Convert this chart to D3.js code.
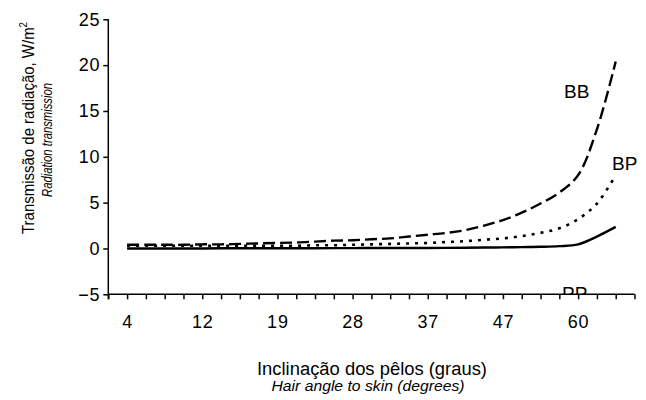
<!DOCTYPE html>
<html>
<head>
<meta charset="utf-8">
<script src="https://cdn.jsdelivr.net/npm/d3@7"></script>
<style>
  body { margin: 0; background: #fff; }
  svg { display: block; font-family: "Liberation Sans", Arial, sans-serif; }
  .axis path, .axis line { stroke: #000; stroke-width: 1.5; }
  .axis text { font-size: 18px; fill: #000; font-family: "Liberation Sans", Arial, sans-serif; letter-spacing: 0.8px; }
</style>
</head>
<body>
<div id="chart"></div>
<script>
  // hair angle labels shown on the category axis (every 4th category)
  const tickLabels = ["4", "12", "19", "28", "37", "47", "60"];
  const yTicks = [-5, 0, 5, 10, 15, 20, 25];

  // radiation transmission, W/m2 — one value per category (27 categories)
  const bb = [0.4, 0.4, 0.4, 0.4, 0.45, 0.45, 0.5, 0.55, 0.6, 0.65, 0.75, 0.85, 0.9, 1.0,
              1.1, 1.3, 1.5, 1.7, 2.0, 2.5, 3.1, 3.9, 4.9, 6.1, 8.0, 13.0, 20.4];
  const bp = [0.3, 0.3, 0.3, 0.3, 0.3, 0.3, 0.3, 0.3, 0.3, 0.3, 0.35, 0.35, 0.4, 0.45,
              0.5, 0.55, 0.6, 0.7, 0.8, 0.95, 1.1, 1.35, 1.7, 2.2, 3.2, 4.9, 8.0];
  const pp = [0.0, 0.0, 0.0, 0.0, 0.0, 0.02, 0.02, 0.02, 0.03, 0.03, 0.03, 0.04, 0.04, 0.05,
              0.05, 0.05, 0.05, 0.06, 0.08, 0.1, 0.12, 0.15, 0.18, 0.25, 0.45, 1.3, 2.35];

  const W = 646, H = 400;
  const pLeft = 108.3, pRight = 634.5, pTop = 19.3, pBottom = 294.3;

  const svg = d3.select("#chart").append("svg")
    .attr("width", W).attr("height", H);

  const x = d3.scaleLinear().domain([-1, 27]).range([pLeft, pRight]);
  const y = d3.scaleLinear().domain([-5, 25]).range([pBottom, pTop]);

  svg.append("defs").append("clipPath").attr("id", "plot")
    .append("rect").attr("x", pLeft).attr("y", 0)
    .attr("width", W - pLeft).attr("height", pBottom);

  // y axis
  const yAxis = svg.append("g").attr("class", "axis")
    .attr("transform", `translate(${pLeft},0)`)
    .call(d3.axisLeft(y).tickValues(yTicks).tickSize(5).tickSizeOuter(0).tickPadding(3));

  // x axis, ticks at every category, label every 4th
  const xAxis = svg.append("g").attr("class", "axis")
    .attr("transform", `translate(0,${pBottom})`)
    .call(d3.axisBottom(x)
      .tickValues(d3.range(-1, 28))
      .tickSize(5).tickSizeOuter(0).tickPadding(16)
      .tickFormat(i => (i >= 0 && i % 4 === 0) ? tickLabels[i / 4] : ""));
  xAxis.select(".domain").attr("d", `M${pLeft},0H${pRight}`);
  yAxis.select(".domain").attr("d", `M0,${pTop}V${pBottom + 5}`);

  const line = d3.line()
    .x((d, i) => x(i))
    .y(d => y(d))
    .curve(d3.curveCatmullRom);

  const plot = svg.append("g").attr("clip-path", "url(#plot)");

  plot.append("path").datum(pp)
    .attr("d", line).attr("fill", "none")
    .attr("stroke", "#000").attr("stroke-width", 2.4);
  plot.append("path").datum(bp)
    .attr("d", line).attr("fill", "none")
    .attr("stroke", "#000").attr("stroke-width", 2.6)
    .attr("stroke-dasharray", "3,6");
  plot.append("path").datum(bb)
    .attr("d", line).attr("fill", "none")
    .attr("stroke", "#000").attr("stroke-width", 2.4)
    .attr("stroke-dasharray", "12,5");

  // series labels
  const lab = plot.append("g").attr("font-size", 19).attr("fill", "#000");
  lab.append("text").attr("x", 564).attr("y", 98).text("BB");
  lab.append("text").attr("x", 612).attr("y", 170).text("BP");
  lab.append("text").attr("x", 562).attr("y", 300).text("PP");

  // y title
  const yt = svg.append("text")
    .attr("transform", "translate(33.5,128) rotate(-90)")
    .attr("text-anchor", "middle").attr("font-size", 17)
    .attr("textLength", 212).attr("lengthAdjust", "spacingAndGlyphs");
  yt.append("tspan").text("Transmissão de radiação, W/m");
  yt.append("tspan").attr("font-size", 11).attr("dy", -7).text("2");

  svg.append("text")
    .attr("transform", "translate(51.7,140) rotate(-90)")
    .attr("text-anchor", "middle").attr("font-size", 14)
    .attr("font-style", "italic")
    .attr("textLength", 114).attr("lengthAdjust", "spacingAndGlyphs")
    .text("Radiation transmission");

  // x title
  svg.append("text")
    .attr("x", 372).attr("y", 375)
    .attr("text-anchor", "middle").attr("font-size", 18)
    .attr("textLength", 230).attr("lengthAdjust", "spacingAndGlyphs")
    .text("Inclinação dos pêlos (graus)");
  svg.append("text")
    .attr("x", 368).attr("y", 391)
    .attr("text-anchor", "middle").attr("font-size", 14)
    .attr("font-style", "italic")
    .attr("textLength", 193).attr("lengthAdjust", "spacingAndGlyphs")
    .text("Hair angle to skin (degrees)");
</script>
</body>
</html>
